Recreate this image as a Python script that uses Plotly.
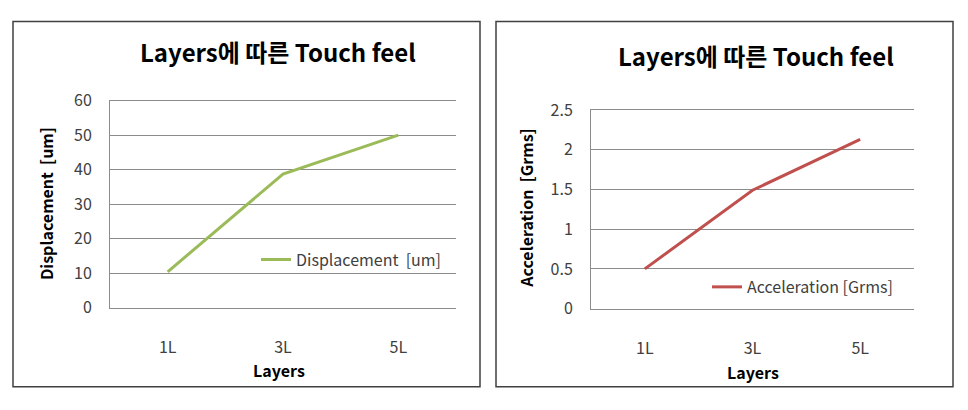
import plotly.graph_objects as go

layers = ["1L", "3L", "5L"]
displacement = [10.4, 38.7, 50.0]
acceleration = [0.50, 1.49, 2.13]
disp_ticks = [0, 10, 20, 30, 40, 50, 60]
acc_ticks = [0, 0.5, 1, 1.5, 2, 2.5]
acc_tick_text = ["0", "0.5", "1", "1.5", "2", "2.5"]

title_text = "Layers에 따른 Touch feel"
FONT = "Noto Sans CJK KR"
W, H = 968, 410

def px(x):
    return x / W

def py(y):
    return 1 - y / H

fig = go.Figure()
fig.add_trace(go.Scatter(x=layers, y=displacement, mode="lines", name="Displacement  [um]",
                         line=dict(color="#9BBB59", width=3), xaxis="x", yaxis="y", legend="legend"))
fig.add_trace(go.Scatter(x=layers, y=acceleration, mode="lines", name="Acceleration [Grms]",
                         line=dict(color="#C0504D", width=3), xaxis="x2", yaxis="y2", legend="legend2"))

grid = "#8c8c8c"
tickfont = dict(family=FONT, size=16, color="#404040")

# mirror=True draws the top line, which coincides with the top gridline
common_x = dict(type="category", range=[-0.5, 2.5], showgrid=False, showline=True, linecolor=grid,
                linewidth=1, mirror=True, zeroline=False, ticks="", tickfont=tickfont,
                ticklabelstandoff=25, fixedrange=True)
common_y = dict(showgrid=True, gridcolor=grid, gridwidth=1, showline=True, linecolor=grid, linewidth=1,
                zeroline=False, ticks="", tickfont=tickfont, ticklabelstandoff=14, fixedrange=True)

L = dict(x0=110, x1=456, top=93, bot=313)
R = dict(x0=591, x1=914, top=103, bot=314)

fig.update_layout(
    width=W, height=H, margin=dict(l=0, r=0, t=0, b=0),
    paper_bgcolor="white", plot_bgcolor="white",
    font=dict(family=FONT),
    xaxis=dict(domain=[px(L["x0"]), px(L["x1"])], anchor="y", **common_x),
    yaxis=dict(domain=[py(L["bot"]), py(L["top"])], anchor="x", range=[disp_ticks[0], disp_ticks[-1]],
               tickvals=disp_ticks, **common_y),
    xaxis2=dict(domain=[px(R["x0"]), px(R["x1"])], anchor="y2", **common_x),
    yaxis2=dict(domain=[py(R["bot"]), py(R["top"])], anchor="x2", range=[acc_ticks[0], acc_ticks[-1]],
                tickvals=acc_ticks, ticktext=acc_tick_text, **common_y),
    legend=dict(x=px(256), y=py(262), xanchor="left", yanchor="middle", bgcolor="rgba(0,0,0,0)",
                font=dict(family=FONT, size=16, color="#404040"), itemwidth=30),
    legend2=dict(x=px(707), y=py(291), xanchor="left", yanchor="middle", bgcolor="rgba(0,0,0,0)",
                 font=dict(family=FONT, size=16, color="#404040"), itemwidth=30),
    showlegend=True,
)

# outer chart borders
for x0, x1 in [(13, 480), (496, 953)]:
    fig.add_shape(type="rect", xref="paper", yref="paper", x0=px(x0), x1=px(x1), y0=py(397), y1=py(9),
                  line=dict(color="#404040", width=1.5), fillcolor="rgba(0,0,0,0)", layer="below")

anns = [
    dict(x=px(278), y=py(41), text=f"<b>{title_text}</b>", font=dict(size=24, color="black")),
    dict(x=px(756), y=py(45), text=f"<b>{title_text}</b>", font=dict(size=24, color="black")),
    dict(x=px(46), y=py(203), text="<b>Displacement  [um]</b>", textangle=-90, font=dict(size=16, color="black")),
    dict(x=px(526), y=py(208), text="<b>Acceleration  [Grms]</b>", textangle=-90, font=dict(size=16, color="black")),
    dict(x=px(279), y=py(379), text="<b>Layers</b>", font=dict(size=16, color="black")),
    dict(x=px(753), y=py(381), text="<b>Layers</b>", font=dict(size=16, color="black")),
]
for a in anns:
    fig.add_annotation(xref="paper", yref="paper", showarrow=False, xanchor="center", yanchor="middle",
                       **{k: v for k, v in a.items() if k != "font"},
                       font=dict(family=FONT, **a["font"]))

fig.write_html("out.html")
